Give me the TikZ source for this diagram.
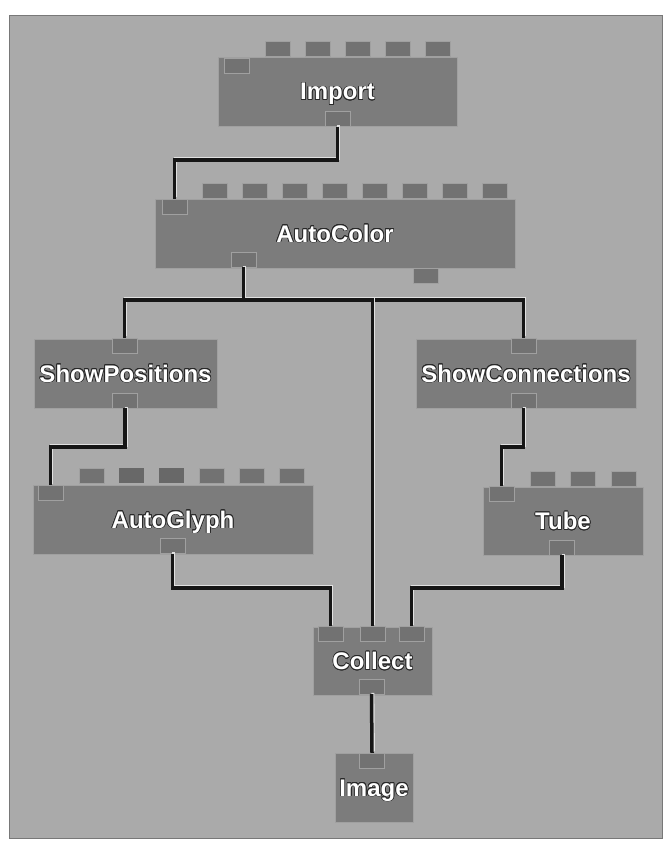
\documentclass[tikz,border=0pt]{standalone}
\usepackage{fontspec}
\newfontfamily\modfont{Liberation Sans}
\usepackage{xcolor}
\usepackage{tikz}
\usepackage{contour}
\contourlength{0.7pt}
\usetikzlibrary{positioning}
\definecolor{panelgrey}{RGB}{170,170,170}
\definecolor{panelrule}{RGB}{120,120,120}
\definecolor{modgrey}{RGB}{124,124,124}
\definecolor{portgrey}{RGB}{114,114,114}
\definecolor{edgegrey}{RGB}{160,160,160}
\definecolor{flatgrey}{RGB}{104,104,104}
\definecolor{wireblack}{RGB}{22,22,22}
\definecolor{wirelight}{RGB}{225,225,225}
\definecolor{halogrey}{RGB}{40,40,40}
\newcommand{\modlabel}[1]{\contour{halogrey}{#1}}
\tikzset{
  module/.style={rectangle,draw=edgegrey,thin,fill=modgrey,inner sep=0pt,
    minimum height=69pt,text=white,text height=17pt,text depth=0pt,
    font=\modfont\bfseries\fontsize{24}{24}\selectfont},
  port/.style={rectangle,draw=edgegrey,fill=portgrey,inner sep=0pt,
    minimum width=25pt,minimum height=15pt},
  flatport/.style={port,draw=none,fill=flatgrey},
  wire/.style={draw=wireblack,line width=3.5pt,
    preaction={draw=wirelight,line width=3pt,
      transform canvas={shift={(1.4pt,1.4pt)}}}}
}

\begin{document}
\begin{tikzpicture}[x=1pt,y=-1pt]
  \useasboundingbox (0,0) rectangle (662,845);
  \fill[panelgrey,draw=panelrule] (9,15) rectangle (662,838);
  % modules
  \node[module,minimum width=239pt] (import) at (337.5,91.5) {\modlabel{Import}};
  \node[module,minimum width=360pt] (autocolor) at (335,233.5) {\modlabel{AutoColor}};
  \node[module,minimum width=183pt] (showpos) at (125.5,373.5) {\modlabel{ShowPositions}};
  \node[module,minimum width=220pt] (showconn) at (526,373.5) {\modlabel{ShowConnections}};
  \node[module,minimum width=280pt] (autoglyph) at (173,519.5) {\modlabel{AutoGlyph}};
  \node[module,minimum width=160pt,minimum height=68pt] (tube) at (563,521) {\modlabel{Tube}};
  \node[module,minimum width=119pt,minimum height=68pt] (collect) at (372.5,661) {\modlabel{Collect}};
  \node[module,minimum width=78pt] (image) at (374,787.5) {\modlabel{Image}};
  % parameter tabs
  \foreach \i in {0,...,4}
    \node[port] (import-p\i) at ({277.5+40*\i},49) {};
  \foreach \i in {0,...,7}
    \node[port] (autocolor-p\i) at ({214.5+40*\i},191) {};
  \foreach \i/\s in {0/port,1/flatport,2/flatport,3/port,4/port,5/port}
    \node[\s] (autoglyph-p\i) at ({91.5+40*\i},475.5) {};
  \foreach \i in {0,1,2}
    \node[port] (tube-p\i) at ({542.5+40.5*\i},478.5) {};
  % inputs and outputs
  \node[port] (import-in) at (237,66) {};
  \node[port] (import-out) at (337.5,119) {};
  \node[port] (autocolor-in) at (174.5,206.5) {};
  \node[port] (autocolor-out) at (243.5,259.5) {};
  \node[port] (autocolor-aux) at (425.5,276) {};
  \node[port] (showpos-in) at (124.5,345.5) {};
  \node[port] (showpos-out) at (125,400.5) {};
  \node[port] (showconn-in) at (523.5,345.5) {};
  \node[port] (showconn-out) at (523.5,400.5) {};
  \node[port] (autoglyph-in) at (50.5,493) {};
  \node[port] (autoglyph-out) at (172.5,546) {};
  \node[port] (tube-in) at (501.5,494) {};
  \node[port] (tube-out) at (562,547.5) {};
  \node[port] (collect-in1) at (330.5,634) {};
  \node[port] (collect-in2) at (372.5,634) {};
  \node[port] (collect-in3) at (411.5,634) {};
  \node[port] (collect-out) at (371.5,686.5) {};
  \node[port] (image-in) at (372,760.5) {};
  % wires
  \draw[wire] (import-out.south) -- (import-out.south |- 0,160) -| (autocolor-in.north);
  \draw[wire] (autocolor-out.south) -- (autocolor-out.south |- 0,300) -| (showpos-in.north);
  \draw[wire] (autocolor-out.south) -- (autocolor-out.south |- 0,300) -| (showconn-in.north);
  \draw[wire] (autocolor-out.south) -- (autocolor-out.south |- 0,300) -| (collect-in2.north);
  \draw[wire] (showpos-out.south) -- (showpos-out.south |- 0,447) -| (autoglyph-in.north);
  \draw[wire] (showconn-out.south) -- (showconn-out.south |- 0,447) -| (tube-in.north);
  \draw[wire] (autoglyph-out.south) -- (autoglyph-out.south |- 0,588) -| (collect-in1.north);
  \draw[wire] (tube-out.south) -- (tube-out.south |- 0,588) -| (collect-in3.north);
  \draw[wire] (collect-out.south) -- (image-in.north);
\end{tikzpicture}
\end{document}
